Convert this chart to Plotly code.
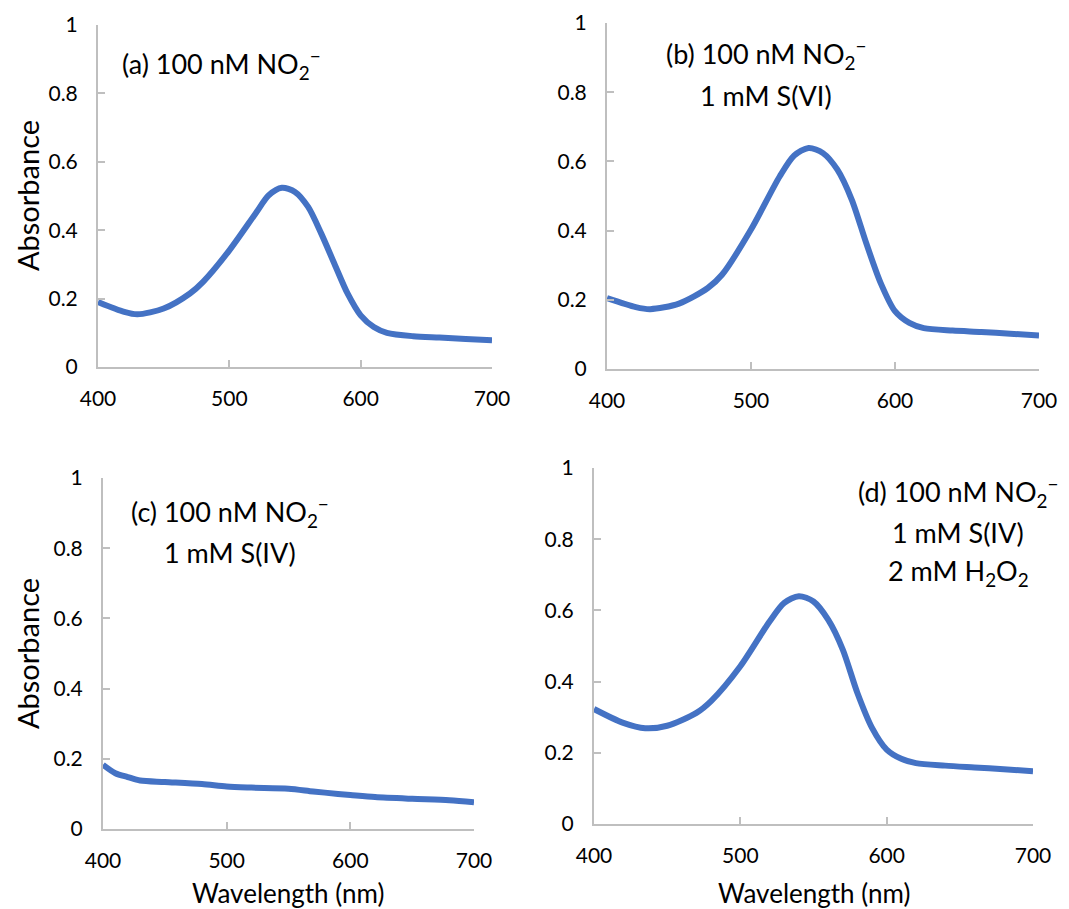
import plotly.graph_objects as go

W, H = 1069, 909

# ---------------- data ----------------
wl_a = [400, 420, 430, 450, 470, 480, 500, 520, 530, 540, 550, 560, 570, 580, 590, 600, 610, 620, 640, 660, 680, 700]
abs_a = [0.190, 0.161, 0.154, 0.171, 0.215, 0.249, 0.341, 0.449, 0.502, 0.524, 0.512, 0.468, 0.390, 0.302, 0.215, 0.151, 0.117, 0.100, 0.090, 0.086, 0.082, 0.078]

wl_b = [400, 420, 430, 450, 470, 480, 500, 520, 530, 540, 550, 560, 570, 580, 590, 600, 610, 620, 640, 660, 680, 700]
abs_b = [0.205, 0.179, 0.173, 0.189, 0.234, 0.273, 0.403, 0.557, 0.617, 0.639, 0.624, 0.576, 0.489, 0.364, 0.249, 0.167, 0.133, 0.118, 0.111, 0.107, 0.102, 0.097]

wl_c = [400, 410, 420, 430, 450, 480, 500, 520, 550, 570, 590, 600, 620, 650, 680, 700]
abs_c = [0.183, 0.159, 0.148, 0.138, 0.134, 0.128, 0.121, 0.118, 0.115, 0.107, 0.100, 0.097, 0.091, 0.086, 0.082, 0.076]

wl_d = [400, 420, 435, 450, 470, 480, 500, 520, 530, 540, 550, 560, 570, 580, 590, 600, 610, 620, 640, 660, 680, 700]
abs_d = [0.323, 0.284, 0.269, 0.276, 0.312, 0.345, 0.443, 0.569, 0.621, 0.640, 0.625, 0.574, 0.490, 0.368, 0.270, 0.209, 0.183, 0.171, 0.164, 0.159, 0.154, 0.148]

x_ticks = [400, 500, 600, 700]
y_ticks = [0, 0.2, 0.4, 0.6, 0.8, 1]

labels_a = ["(a) 100 nM NO<sub>2</sub><sup>−</sup>"]
labels_b = ["(b) 100 nM NO<sub>2</sub><sup>−</sup>", "1 mM S(VI)"]
labels_c = ["(c) 100 nM NO<sub>2</sub><sup>−</sup>", "1 mM S(IV)"]
labels_d = ["(d) 100 nM NO<sub>2</sub><sup>−</sup>", "1 mM S(IV)", "2 mM H<sub>2</sub>O<sub>2</sub>"]

# ---------------- layout geometry (pixels) ----------------
panels = [
    # (x0, x1, ytop, ybottom)
    (98, 492, 25, 367),
    (607, 1039, 23, 369),
    (103, 474, 478, 829),
    (594, 1033, 468, 824),
]

FONT = "Lato"
LINE_COLOR = "#4472C4"
AXIS_COLOR = "#BFBFBF"

fig = go.Figure()
series = [(wl_a, abs_a), (wl_b, abs_b), (wl_c, abs_c), (wl_d, abs_d)]

layout = dict(
    width=W, height=H,
    margin=dict(l=0, r=0, t=0, b=0, autoexpand=False),
    paper_bgcolor="white", plot_bgcolor="white",
    showlegend=False,
    font=dict(family=FONT, color="black"),
)

for i, ((x0, x1, yt, yb), (xs, ys)) in enumerate(zip(panels, series)):
    n = "" if i == 0 else str(i + 1)
    fig.add_trace(go.Scatter(
        x=xs, y=ys, mode="lines",
        line=dict(color=LINE_COLOR, width=6, shape="spline", smoothing=0.8),
        xaxis="x" + n, yaxis="y" + n, hoverinfo="skip",
    ))
    layout["xaxis" + n] = dict(
        domain=[x0 / W, x1 / W], anchor="y" + n,
        range=[400, 700], tickvals=x_ticks, automargin=False,
        showgrid=False, zeroline=False,
        showline=True, linecolor=AXIS_COLOR, linewidth=2,
        ticks="inside", ticklen=7, tickcolor=AXIS_COLOR, tickwidth=2,
        tickfont=dict(family=FONT, size=21, color="black"),
        ticklabelstandoff=12,
    )
    layout["yaxis" + n] = dict(
        domain=[1 - yb / H, 1 - yt / H], anchor="x" + n,
        range=[0, 1], tickvals=y_ticks, automargin=False,
        showgrid=False, zeroline=False,
        showline=True, linecolor=AXIS_COLOR, linewidth=2,
        ticks="inside", ticklen=7, tickcolor=AXIS_COLOR, tickwidth=2,
        tickfont=dict(family=FONT, size=21, color="black"),
        ticklabelstandoff=14,
    )

fig.update_layout(**layout)

annotations = []

def add_text(text, xc, yc, size=27, xanchor="center", textangle=0):
    annotations.append(dict(
        text=text, x=xc / W, y=1 - yc / H, xref="paper", yref="paper",
        xanchor=xanchor, yanchor="middle", showarrow=False,
        font=dict(family=FONT, size=size, color="black"), textangle=textangle,
    ))

# panel labels
add_text(labels_a[0], 120, 64, xanchor="left")
for t, yc in zip(labels_b, [54, 96]):
    add_text(t, 766, yc)
for t, yc in zip(labels_c, [512, 552]):
    add_text(t, 230, yc)
for t, yc in zip(labels_d, [492, 532, 572]):
    add_text(t, 958, yc)

# axis titles
add_text("Absorbance", 27, 196, size=29, textangle=-90)
add_text("Absorbance", 27, 654, size=29, textangle=-90)
add_text("Wavelength (nm)", 288, 893, size=26)
add_text("Wavelength (nm)", 814, 893, size=26)

fig.update_layout(annotations=annotations)

fig.write_html(
    "out.html",
    config={"displayModeBar": False},
    post_script="document.body.style.margin='0px';document.body.style.overflow='hidden';",
)
